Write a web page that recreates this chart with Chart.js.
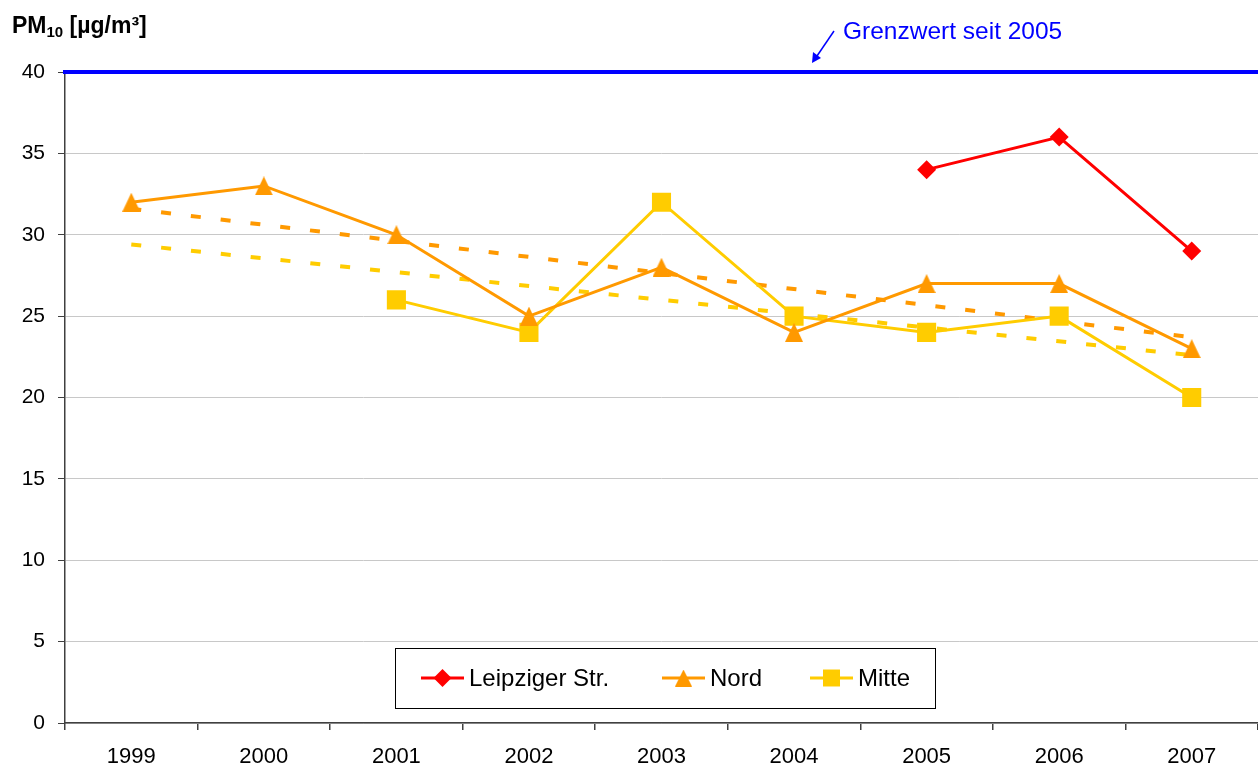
<!DOCTYPE html>
<html>
<head>
<meta charset="utf-8">
<script src="https://cdn.jsdelivr.net/npm/chart.js@4"></script>
<style>
  html, body { margin: 0; background: #fff; }
  #wrap { width: 1258px; height: 767px; position: relative; }
</style>
</head>
<body>
<div id="wrap"><canvas id="chartPM10"></canvas></div>
<script>
// Messwerte PM10 Jahresmittel
const jahre = ['1999', '2000', '2001', '2002', '2003', '2004', '2005', '2006', '2007'];
const leipziger = [null, null, null, null, null, null, 34, 36, 29];
const nord = [32, 33, 30, 25, 28, 24, 27, 27, 23];
const mitte = [null, null, 26, 24, 32, 25, 24, 25, 20];
// Trendlinien (nur Endpunkte)
const nordTrend = [31.6, null, null, null, null, null, null, null, 23.7];
const mitteTrend = [29.4, null, null, null, null, null, null, null, 22.6];
const yTicks = [0, 5, 10, 15, 20, 25, 30, 35, 40];
const grenzwert = 40;

const FONT = '"Liberation Sans", Arial, sans-serif';
const ROT = '#ff0000', ORANGE = '#ff9900', GELB = '#ffcc00', BLAU = '#0000ff';

// Excel-artiges Dreieck (etwas hoeher als breit, Mitte = Bounding-Box)
function dreieck(w, h, farbe) {
  const c = document.createElement('canvas');
  c.width = w; c.height = h;
  const g = c.getContext('2d');
  g.fillStyle = farbe;
  g.beginPath();
  g.moveTo(w / 2, 0);
  g.lineTo(w, h);
  g.lineTo(0, h);
  g.closePath();
  g.fill();
  return c;
}
const dreieckGross = dreieck(18, 19, ORANGE);
const dreieckLegende = dreieck(17, 17, ORANGE);

const extras = {
  id: 'extras',
  afterDraw(chart) {
    const { ctx, chartArea, scales } = chart;
    const yG = scales.y.getPixelForValue(grenzwert);

    ctx.save();
    // Grenzwert-Linie
    ctx.strokeStyle = BLAU;
    ctx.lineWidth = 4;
    ctx.beginPath();
    ctx.moveTo(chartArea.left - 2, yG);
    ctx.lineTo(chartArea.right, yG);
    ctx.stroke();

    // Pfeil + Beschriftung
    const tipX = 812, tipY = yG - 9;
    ctx.lineWidth = 1.5;
    ctx.beginPath();
    ctx.moveTo(834, 31);
    ctx.lineTo(tipX + 5, tipY - 7);
    ctx.stroke();
    ctx.fillStyle = BLAU;
    ctx.beginPath();
    ctx.moveTo(tipX, tipY);
    ctx.lineTo(tipX + 1, tipY - 11);
    ctx.lineTo(tipX + 9, tipY - 5);
    ctx.closePath();
    ctx.fill();
    ctx.font = '24.5px ' + FONT;
    ctx.textBaseline = 'alphabetic';
    ctx.fillText('Grenzwert seit 2005', 843, 39);

    // Achsentitel
    ctx.fillStyle = '#000';
    let x = 12;
    ctx.font = 'bold 23px ' + FONT;
    ctx.fillText('PM', x, 33);
    x += ctx.measureText('PM').width;
    ctx.font = 'bold 15px ' + FONT;
    ctx.fillText('10', x, 37);
    x += ctx.measureText('10').width;
    ctx.font = 'bold 23px ' + FONT;
    ctx.fillText(' [µg/m³]', x, 33);

    // Legende
    const box = { l: 395, t: 648, r: 935, b: 708 };
    ctx.fillStyle = '#fff';
    ctx.fillRect(box.l, box.t, box.r - box.l, box.b - box.t);
    ctx.strokeStyle = '#000';
    ctx.lineWidth = 1;
    ctx.strokeRect(box.l + 0.5, box.t + 0.5, box.r - box.l, box.b - box.t);
    const items = [
      { ds: 0, x0: 421, x1: 464, r: 9, style: 'rectRot' },
      { ds: 1, x0: 662, x1: 705, r: 10, style: dreieckLegende },
      { ds: 2, x0: 810, x1: 853, r: 12, style: 'rect' }
    ];
    const ym = (box.t + box.b) / 2;
    items.forEach(it => {
      const ds = chart.data.datasets[it.ds];
      ctx.strokeStyle = ds.borderColor;
      ctx.fillStyle = ds.backgroundColor;
      ctx.lineWidth = 3;
      ctx.beginPath();
      ctx.moveTo(it.x0, ym);
      ctx.lineTo(it.x1, ym);
      ctx.stroke();
      Chart.helpers.drawPoint(ctx, { pointStyle: it.style, radius: it.r, rotation: 0, borderWidth: 0 }, (it.x0 + it.x1) / 2, ym);
      ctx.fillStyle = '#000';
      ctx.font = '24px ' + FONT;
      ctx.textBaseline = 'middle';
      ctx.fillText(ds.label, it.x1 + 5, ym + 1);
    });
    ctx.restore();
  }
};

new Chart(document.getElementById('chartPM10'), {
  type: 'line',
  data: {
    labels: jahre,
    datasets: [
      { label: 'Leipziger Str.', data: leipziger, borderColor: ROT, backgroundColor: ROT, borderWidth: 3,
        pointStyle: 'rectRot', pointRadius: 9.5, pointBorderWidth: 0 },
      { label: 'Nord', data: nord, borderColor: ORANGE, backgroundColor: ORANGE, borderWidth: 3,
        pointStyle: dreieckGross, pointRadius: 10, pointBorderWidth: 0 },
      { label: 'Mitte', data: mitte, borderColor: GELB, backgroundColor: GELB, borderWidth: 3,
        pointStyle: 'rect', pointRadius: 13.5, pointBorderWidth: 0 },
      { label: 'Trend Nord', data: nordTrend, borderColor: ORANGE, borderWidth: 4, borderDash: [10, 20],
        pointRadius: 0, spanGaps: true },
      { label: 'Trend Mitte', data: mitteTrend, borderColor: GELB, borderWidth: 4, borderDash: [10, 20],
        pointRadius: 0, spanGaps: true }
    ]
  },
  options: {
    responsive: true,
    maintainAspectRatio: false,
    animation: false,
    layout: { autoPadding: false, padding: { top: 72, right: 0, left: 0, bottom: 0 } },
    plugins: { legend: { display: false }, tooltip: { enabled: false } },
    scales: {
      x: {
        offset: true,
        grid: { offset: true, drawOnChartArea: false, tickColor: '#404040', tickLength: 7, lineWidth: 1.5 },
        border: { color: '#404040', width: 1.5 },
        ticks: { color: '#000', font: { family: FONT, size: 22 }, padding: 14, maxRotation: 0 },
        afterFit: s => { s.height = 44; }
      },
      y: {
        min: 0, max: 40,
        afterBuildTicks: s => { s.ticks = yTicks.map(v => ({ value: v })); },
        grid: { color: '#c8c8c8', tickColor: '#404040', tickLength: 7, lineWidth: 1 },
        border: { color: '#404040', width: 1.5 },
        ticks: { color: '#000', font: { family: FONT, size: 21 }, padding: 13 },
        afterFit: s => { s.width = 65; }
      }
    }
  },
  plugins: [extras]
});
</script>
</body>
</html>
